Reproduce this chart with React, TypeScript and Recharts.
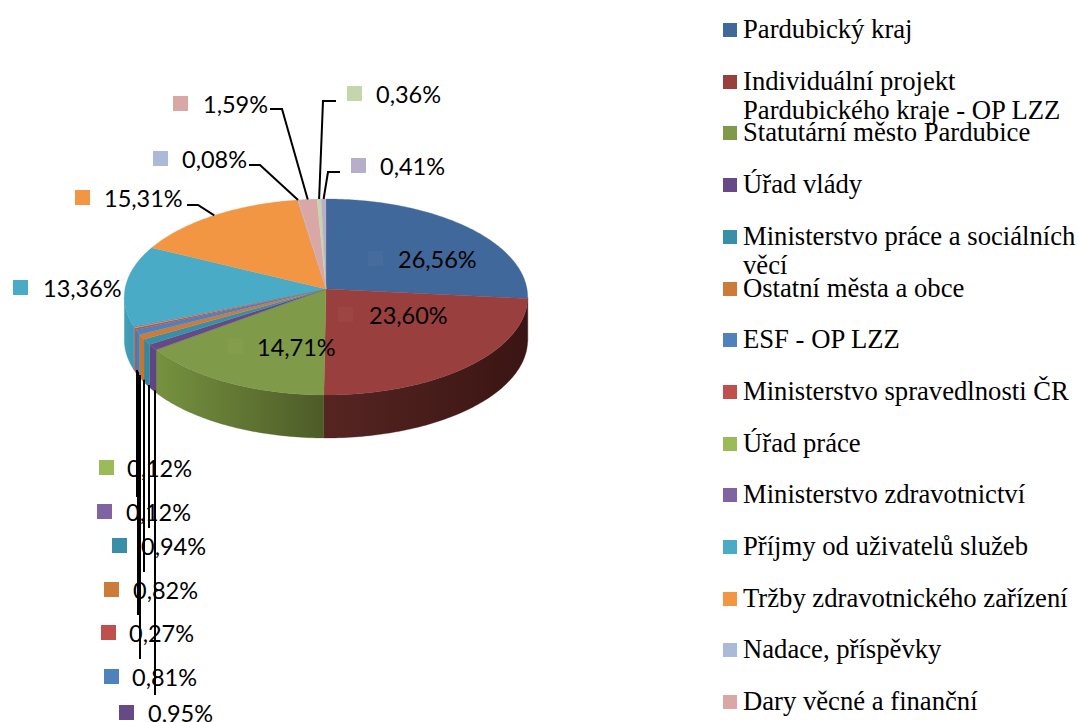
import { PieChart, Pie, Legend } from "recharts"

// the last two slices have their legend rows cut off below the page in the source picture
const categories = [
  "Pardubický kraj",
  "Individuální projekt Pardubického kraje - OP LZZ",
  "Statutární město Pardubice",
  "Úřad vlády",
  "Ministerstvo práce a sociálních věcí",
  "Ostatní města a obce",
  "ESF - OP LZZ",
  "Ministerstvo spravedlnosti ČR",
  "Úřad práce",
  "Ministerstvo zdravotnictví",
  "Příjmy od uživatelů služeb",
  "Tržby zdravotnického zařízení",
  "Nadace, příspěvky",
  "Dary věcné a finanční",
  "",
  "",
]
const shares = [26.56, 23.6, 14.71, 0.95, 0.94, 0.82, 0.81, 0.27, 0.12, 0.12, 13.36, 15.31, 0.08, 1.59, 0.36, 0.41]
const topColors = [
  "#41689a", "#993f3d", "#7f9a48", "#664a85", "#3a8fa8", "#cc7b38", "#4f81bd", "#c0504d",
  "#9bbb59", "#8064a2", "#49abc5", "#f39644", "#aabad7", "#d8a7a6", "#c6d6ac", "#b9aec9",
]
const wallLeft = [
  "#2f4c72", "#562522", "#76923f", "#5f4680", "#38869e", "#c4772f", "#4d7cb6", "#b04a47",
  "#8aa84e", "#74598f", "#41a0b8", "#d9853c", "#98a8c4", "#c49695", "#b2c19a", "#a69cb5",
]
const wallRight = [
  "#2f4c72", "#3a1513", "#4d5b28", "#5f4680", "#38869e", "#c4772f", "#4d7cb6", "#b04a47",
  "#8aa84e", "#74598f", "#3f98b0", "#d9853c", "#98a8c4", "#c49695", "#b2c19a", "#a69cb5",
]

const data = categories.map((name, i) => ({ name, value: shares[i], fill: topColors[i] }))

// label placement per slice: key square x, text x, middle y, optional leader
const keyX = [368, 338, 228, 119, 112, 104, 104, 101, 99, 97, 13, 75, 153, 173, 347, 351]
const textX = [398, 369, 257, 148, 141, 133, 132, 129, 127, 126, 43, 104, 182, 203, 376, 380]
const labelY = [259, 315, 347, 713, 546, 590, 677, 633, 468, 512, 288, 198, 159, 104, 94, 166]
const leaderStart: ([number, number] | null)[] = [
  null, null, null, [155, 695], [149, 528], [144, 572], [140, 659], [138, 615], [137, 493], [137, 497],
  null, [187, 205], [249, 165], [270, 109], [336, 101], [340, 172],
]
const leaderElbow: ([number, number] | null)[] = [
  null, null, null, null, null, null, null, null, null, null,
  null, [198, 205], [260, 165], [282, 109], [323, 101], [328, 172],
]

const DEPTH = 43
const TILT = 0.4843
const PERSP = 0.0816

// clock angle in degrees (0 = 12 o'clock) to screen position on the tilted disc
function project(cx: number, cy: number, r: number, deg: number) {
  const t = (deg * Math.PI) / 180
  const toward = -Math.cos(t)
  const w = 1 - PERSP * toward
  return { x: cx + (r * Math.sin(t)) / w, y: cy + (r * TILT * toward) / w }
}

function arcPoints(cx: number, cy: number, r: number, from: number, to: number) {
  const pts = []
  const steps = Math.max(1, Math.ceil(Math.abs(to - from)))
  for (let i = 0; i <= steps; i++) pts.push(project(cx, cy, r, from + ((to - from) * i) / steps))
  return pts
}

function TopSlice(props: any) {
  const { cx, cy, outerRadius, startAngle, endAngle, fill } = props
  const pts = arcPoints(cx, cy, outerRadius, 90 - startAngle, 90 - endAngle)
  const d = `M${cx},${cy} ` + pts.map(p => `L${p.x.toFixed(2)},${p.y.toFixed(2)}`).join(" ") + " Z"
  return <path d={d} fill={fill} stroke={fill} strokeWidth={0.3} />
}

// only the part of the rim that faces the viewer gets a wall
function WallSlice(props: any) {
  const { cx, cy, outerRadius, startAngle, endAngle, index } = props
  const from = Math.max(90 - startAngle, 94.7)
  const to = Math.min(90 - endAngle, 265.3)
  if (to <= from) return <g />
  const pts = arcPoints(cx, cy, outerRadius, from, to)
  const lower = [...pts].reverse().map(p => ({ x: p.x, y: p.y + DEPTH }))
  const d = [...pts, ...lower].map((p, i) => `${i ? "L" : "M"}${p.x.toFixed(2)},${p.y.toFixed(2)}`).join(" ") + " Z"
  return (
    <g>
      <defs>
        <linearGradient id={`wall-${index}`} x1="0" y1="0" x2="1" y2="0">
          <stop offset="0%" stopColor={wallLeft[index]} />
          <stop offset="100%" stopColor={wallRight[index]} />
        </linearGradient>
      </defs>
      <path d={d} fill={`url(#wall-${index})`} stroke={wallRight[index]} strokeWidth={0.3} />
    </g>
  )
}

function SliceLabel(props: any) {
  const { cx, cy, outerRadius, midAngle, index, value, fill } = props
  const deg = 90 - midAngle
  const anchor = project(cx, cy, outerRadius, deg)
  const start = leaderStart[index]
  const elbow = leaderElbow[index]
  let line = null
  if (start) {
    const points = elbow
      ? `${start[0]},${start[1]} ${elbow[0]},${elbow[1]} ${anchor.x},${anchor.y}`
      : `${start[0]},${start[1]} ${start[0]},${anchor.y + DEPTH}`
    line = <polyline points={points} fill="none" stroke="#000" strokeWidth={2} />
  }
  const inside = !start && index < 3
  return (
    <g>
      {line}
      <rect
        x={keyX[index]}
        y={labelY[index] - 8}
        width={15}
        height={15}
        fill={inside ? "#ffffff" : fill}
        fillOpacity={inside ? 0.03 : 1}
      />
      <text x={textX[index]} y={labelY[index]} dominantBaseline="central" fontFamily="Lato" fontSize={23.5} fill="#000">
        {value.toFixed(2).replace(".", ",")}%
      </text>
    </g>
  )
}

function LegendRows() {
  const rows = data.filter(d => d.name)
  return (
    <div style={{ position: "relative", width: 363, height: 722 }}>
      {rows.map((p, i) => (
        <div key={p.name} style={{ position: "absolute", left: 0, top: 15 + i * 51.7 }}>
          <div style={{ position: "absolute", left: 8, top: 8, width: 14, height: 14, background: p.fill }} />
          <div
            style={{
              marginLeft: 28,
              width: 335,
              fontFamily: "Liberation Serif",
              fontSize: 26.67,
              lineHeight: "29px",
              color: "#000",
            }}
          >
            {p.name}
          </div>
        </div>
      ))}
    </div>
  )
}

export default function App() {
  return (
    <div style={{ position: "absolute", left: 0, top: 0, width: 1078, height: 722, overflow: "hidden", background: "#fff" }}>
      <PieChart width={1078} height={722} margin={{ top: 0, right: 0, bottom: 0, left: 0 }}>
        <Pie
          data={data}
          dataKey="value"
          nameKey="name"
          cx={326}
          cy={289}
          outerRadius={201}
          startAngle={90}
          endAngle={-270}
          stroke="none"
          legendType="none"
          shape={WallSlice}
          isAnimationActive={false}
        />
        <Pie
          data={data}
          dataKey="value"
          nameKey="name"
          cx={326}
          cy={289}
          outerRadius={201}
          startAngle={90}
          endAngle={-270}
          stroke="none"
          shape={TopSlice}
          label={SliceLabel}
          labelLine={false}
          isAnimationActive={false}
        />
        <Legend
          layout="vertical"
          align="right"
          verticalAlign="top"
          content={LegendRows}
          wrapperStyle={{ left: 715, top: 0, width: 363, height: 722 }}
        />
      </PieChart>
    </div>
  )
}
